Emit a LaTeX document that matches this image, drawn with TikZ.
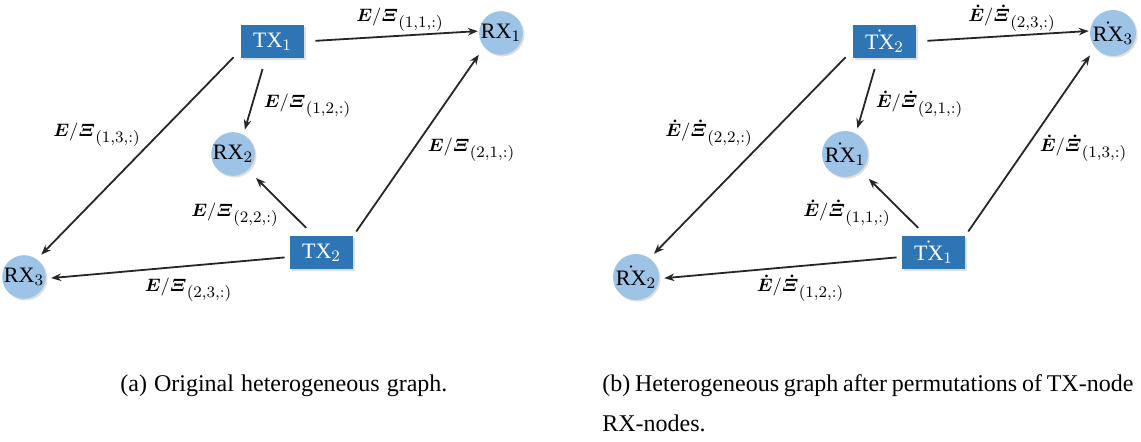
\documentclass[tikz,border=0pt]{standalone}
\usepackage{amsmath}
\usepackage[no-math]{fontspec}
\setmainfont{Liberation Serif}
\usetikzlibrary{arrows.meta,shadows}
\definecolor{TxBlue}{HTML}{2E75B6}
\definecolor{RxBlue}{HTML}{9DC3E6}
\definecolor{EdgeGray}{HTML}{262626}
\DeclareMathSizes{9.5}{9.5}{8}{6}
\newcommand{\elbl}[1]{$\boldsymbol{E}/\boldsymbol{\varXi}_{(#1,:)}$}
\newcommand{\dlbl}[1]{$\boldsymbol{\dot{E}}/\boldsymbol{\dot{\varXi}}_{(#1,:)}$}

\begin{document}
\begin{tikzpicture}[x=0.5pt,y=-0.5pt,
  tx/.style={rectangle,fill=TxBlue,text=white,minimum width=31.5pt,minimum height=16.5pt,inner sep=0pt,
    font=\fontsize{11}{13}\selectfont,drop shadow={shadow xshift=0.8pt,shadow yshift=-0.8pt,opacity=0.25}},
  rx/.style={circle,fill=RxBlue,minimum size=21.5pt,inner sep=0pt,
    font=\fontsize{11}{13}\selectfont,drop shadow={shadow xshift=0.8pt,shadow yshift=-0.8pt,opacity=0.25}},
  link/.style={draw=EdgeGray,line width=0.9pt,-{Stealth[length=5pt,width=3.8pt]}},
  lbl/.style={anchor=south,inner sep=0pt,font=\fontsize{9.5}{11}\selectfont},
  captext/.style={anchor=base west,inner sep=0pt,font=\fontsize{12}{14}\selectfont}]
  \useasboundingbox (0,0) rectangle (1141,442);
  % (a) original graph
  \node[tx] (TXa1) at (272.5,41.5) {TX$_1$}; \node[tx] (TXa2) at (321.5,252.5) {TX$_2$};
  \node[rx] (RXa1) at (501,33) {RX$_1$}; \node[rx] (RXa2) at (233,154) {RX$_2$}; \node[rx] (RXa3) at (24,277) {RX$_3$};
  \draw[link,shorten <=5.5pt,shorten >=0.5pt] (TXa1.east) -- (RXa1.175);
  \draw[link,shorten <=5.5pt,shorten >=2.5pt] (TXa1.248) -- (RXa2.62);
  \draw[link,shorten <=5pt,shorten >=3pt] (TXa1.195) -- (RXa3.54);
  \draw[link,shorten <=2.5pt,shorten >=4.5pt] (TXa2.north east) -- (RXa1.220);
  \draw[link,shorten <=5.5pt,shorten >=5.5pt] (TXa2.114) -- (RXa2.-47);
  \draw[link,shorten <=2.5pt,shorten >=2.5pt] (TXa2.188) -- (RXa3.-4);
  \node[lbl] (La11) at (400,32) {\elbl{1,1}}; \node[lbl] (La12) at (307.5,118) {\elbl{1,2}};
  \node[lbl] (La13) at (97,147) {\elbl{1,3}}; \node[lbl] (La21) at (471.5,162) {\elbl{2,1}};
  \node[lbl] (La22) at (235,227) {\elbl{2,2}}; \node[lbl] (La23) at (188.5,302) {\elbl{2,3}};
  % (b) permuted graph
  \begin{scope}[shift={(612,0)}]
    \node[tx] (TXb2) at (272.5,41.5) {$\dot{\text{TX}}_2$}; \node[tx] (TXb1) at (321.5,252.5) {$\dot{\text{TX}}_1$};
    \node[rx] (RXb3) at (501,33) {$\dot{\text{RX}}_3$}; \node[rx] (RXb1) at (233,154) {$\dot{\text{RX}}_1$}; \node[rx] (RXb2) at (24,277) {$\dot{\text{RX}}_2$};
    \draw[link,shorten <=5.5pt,shorten >=0.5pt] (TXb2.east) -- (RXb3.175);
    \draw[link,shorten <=5.5pt,shorten >=2.5pt] (TXb2.248) -- (RXb1.62);
    \draw[link,shorten <=5pt,shorten >=3pt] (TXb2.195) -- (RXb2.54);
    \draw[link,shorten <=2.5pt,shorten >=4.5pt] (TXb1.north east) -- (RXb3.220);
    \draw[link,shorten <=5.5pt,shorten >=5.5pt] (TXb1.114) -- (RXb1.-47);
    \draw[link,shorten <=2.5pt,shorten >=2.5pt] (TXb1.188) -- (RXb2.-4);
    \node[lbl] (Lb23) at (400,32) {\dlbl{2,3}}; \node[lbl] (Lb21) at (307.5,118) {\dlbl{2,1}};
    \node[lbl] (Lb22) at (97,147) {\dlbl{2,2}}; \node[lbl] (Lb13) at (471.5,162) {\dlbl{1,3}};
    \node[lbl] (Lb11) at (235,227) {\dlbl{1,1}}; \node[lbl] (Lb12) at (188.5,302) {\dlbl{1,2}};
  \end{scope}
  % captions
  \node[captext] (capa) at (120,392) {\makebox[163.5pt][s]{(a) Original heterogeneous graph.}};
  \node[captext] (capb) at (602,392) {\makebox[265.5pt][s]{(b) Heterogeneous graph after permutations of TX-node}};
  \node[captext] (capc) at (602,432) {RX-nodes.};
\end{tikzpicture}
\end{document}
